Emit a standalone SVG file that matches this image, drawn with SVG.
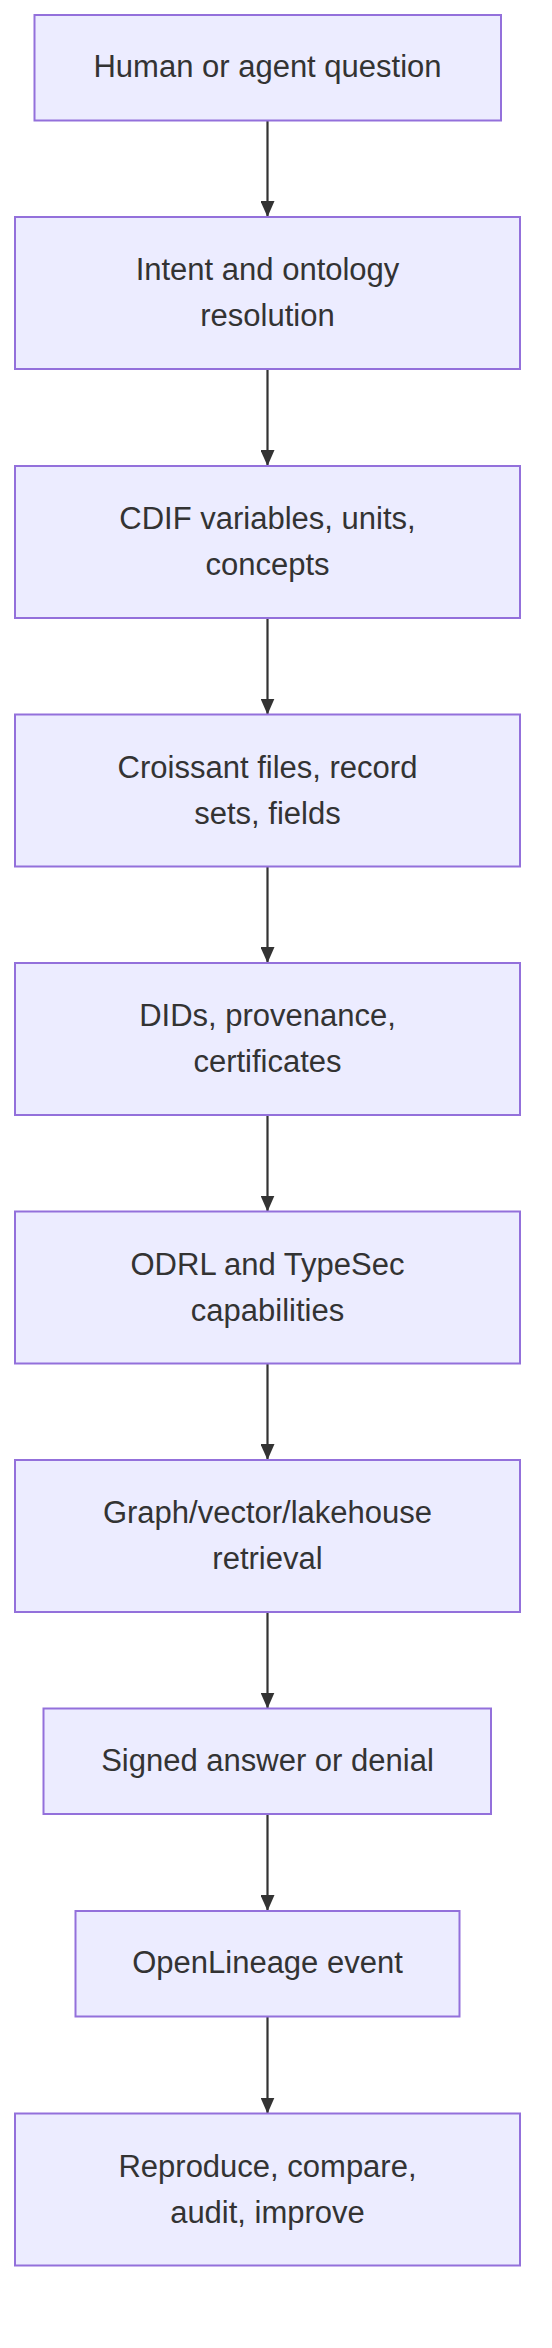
<svg xmlns="http://www.w3.org/2000/svg" width="552" height="2348" viewBox="0 0 552 2348">
<style>
.node rect{fill:#ECECFF;stroke:#9370DB;stroke-width:2}
.node text{font-family:"Liberation Sans",Arial,sans-serif;font-size:31px;fill:#333333;text-anchor:middle}
.edge{stroke:#333333;stroke-width:2.2;fill:none}
</style>
<defs>
<marker id="arrow" viewBox="0 0 16 14" refX="16" refY="7" markerWidth="16" markerHeight="14" markerUnits="userSpaceOnUse" orient="auto">
<path d="M0,0 L16,7 L0,14 Z" fill="#333333"/>
</marker>
</defs>
<g id="connectors">
<line class="edge" x1="267.5" y1="120.5" x2="267.5" y2="217" marker-end="url(#arrow)"/>
<line class="edge" x1="267.5" y1="369" x2="267.5" y2="466" marker-end="url(#arrow)"/>
<line class="edge" x1="267.5" y1="618" x2="267.5" y2="714.5" marker-end="url(#arrow)"/>
<line class="edge" x1="267.5" y1="866.5" x2="267.5" y2="963" marker-end="url(#arrow)"/>
<line class="edge" x1="267.5" y1="1115" x2="267.5" y2="1211.5" marker-end="url(#arrow)"/>
<line class="edge" x1="267.5" y1="1363.5" x2="267.5" y2="1460" marker-end="url(#arrow)"/>
<line class="edge" x1="267.5" y1="1612" x2="267.5" y2="1708.5" marker-end="url(#arrow)"/>
<line class="edge" x1="267.5" y1="1814" x2="267.5" y2="1911" marker-end="url(#arrow)"/>
<line class="edge" x1="267.5" y1="2016.5" x2="267.5" y2="2113.5" marker-end="url(#arrow)"/>
</g>
<g id="n1" class="node">
<rect x="34.5" y="15" width="466.5" height="105.5"/>
<text x="267.5" y="77">Human or agent question</text>
</g>
<g id="n2" class="node">
<rect x="15" y="217" width="505" height="152"/>
<text x="267.5" y="280">Intent and ontology</text>
<text x="267.5" y="326">resolution</text>
</g>
<g id="n3" class="node">
<rect x="15" y="466" width="505" height="152"/>
<text x="267.5" y="529">CDIF variables, units,</text>
<text x="267.5" y="575">concepts</text>
</g>
<g id="n4" class="node">
<rect x="15" y="714.5" width="505" height="152"/>
<text x="267.5" y="777.5">Croissant files, record</text>
<text x="267.5" y="823.5">sets, fields</text>
</g>
<g id="n5" class="node">
<rect x="15" y="963" width="505" height="152"/>
<text x="267.5" y="1026">DIDs, provenance,</text>
<text x="267.5" y="1072">certificates</text>
</g>
<g id="n6" class="node">
<rect x="15" y="1211.5" width="505" height="152"/>
<text x="267.5" y="1274.5">ODRL and TypeSec</text>
<text x="267.5" y="1320.5">capabilities</text>
</g>
<g id="n7" class="node">
<rect x="15" y="1460" width="505" height="152"/>
<text x="267.5" y="1523">Graph/vector/lakehouse</text>
<text x="267.5" y="1569">retrieval</text>
</g>
<g id="n8" class="node">
<rect x="43.5" y="1708.5" width="447.5" height="105.5"/>
<text x="267.5" y="1770.5">Signed answer or denial</text>
</g>
<g id="n9" class="node">
<rect x="75.5" y="1911" width="384" height="105.5"/>
<text x="267.5" y="1973">OpenLineage event</text>
</g>
<g id="n10" class="node">
<rect x="15" y="2113.5" width="505" height="152"/>
<text x="267.5" y="2176.5">Reproduce, compare,</text>
<text x="267.5" y="2222.5">audit, improve</text>
</g>
</svg>
